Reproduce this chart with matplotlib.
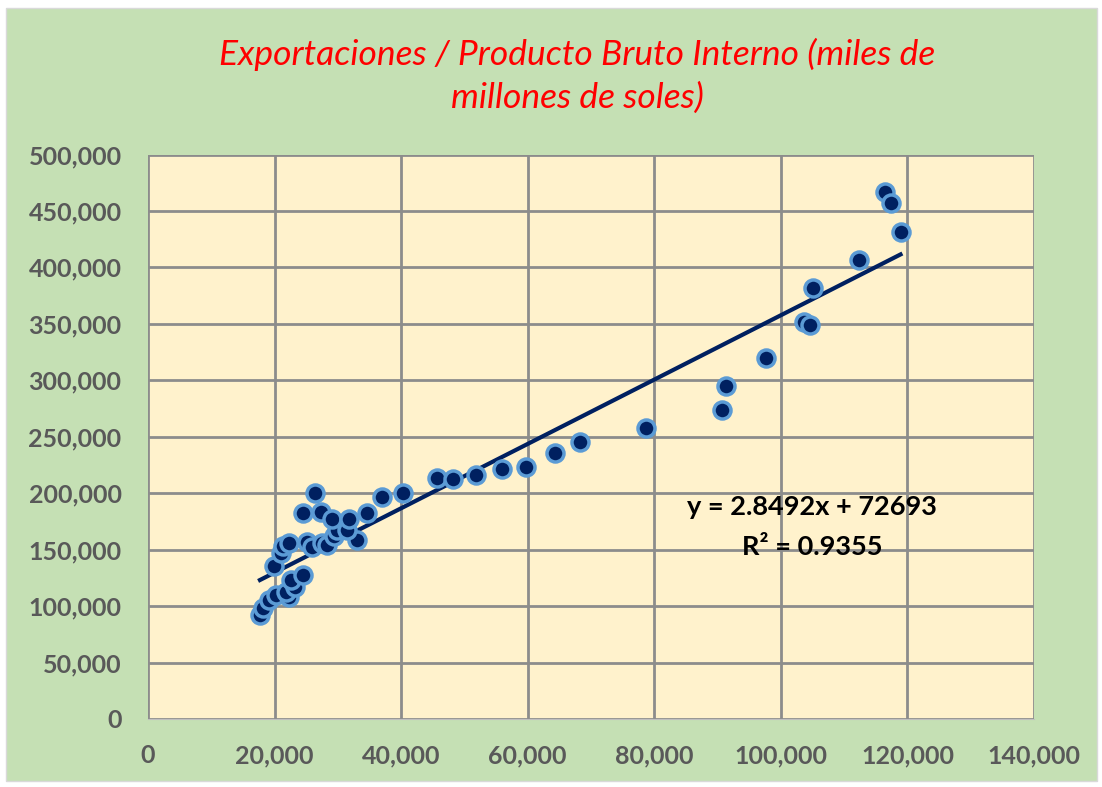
import matplotlib
matplotlib.use('Agg')
import matplotlib.pyplot as plt
from matplotlib.patches import Rectangle
from matplotlib.ticker import FuncFormatter, MultipleLocator
import numpy as np

# Datos (x = exportaciones, y = PBI)
exportaciones = [17690, 18210, 19160, 20220, 22320, 21800, 23220, 22540, 24440, 19910,
                 20960, 21370, 22320, 25070, 25860, 27440, 28330, 29430, 32970, 29810,
                 31490, 24530, 27330, 29020, 31750, 34550, 26380, 37010, 40280,
                 45610, 48140, 51820, 55970, 59720, 64300, 68300, 78630, 90630, 91310,
                 97580, 103680, 104540, 105060, 112320, 116430, 117380, 118910]
pbi = [92040, 97970, 105310, 109730, 108230, 112660, 117080, 123010, 127430, 135400,
       147170, 153100, 156020, 156910, 152480, 155490, 153990, 161950, 158410, 167260,
       167260, 182040, 182920, 176730, 176730, 182040, 200270, 196200, 200620,
       213900, 213010, 216550, 221860, 223280, 235670, 245130, 257520, 274070, 294690,
       319730, 351600, 349300, 381700, 406200, 466650, 456640, 430970]

pendiente = 2.8492
intercepto = 72693
r2 = 0.9355

titulo = 'Exportaciones / Producto Bruto Interno (miles de\nmillones de soles)'

plt.rcParams['font.family'] = ['Lato', 'DejaVu Sans']

fig = plt.figure(figsize=(11.02, 7.87), dpi=100)
fig.patch.set_facecolor('white')

# fondo verde del area del grafico
fondo = Rectangle((6 / 1102, 6 / 787), 1091 / 1102, 773 / 787, transform=fig.transFigure,
                  facecolor='#C5E0B4', edgecolor='#D9D9D9', linewidth=1, zorder=-10)
fig.patches.append(fondo)

ax = fig.add_axes([148 / 1102, 68 / 787, 886 / 1102, 564.5 / 787])
ax.set_zorder(1)
ax.set_facecolor('#FFF2CC')

# linea de tendencia
xs = np.array([min(exportaciones), max(exportaciones)])
ax.plot(xs, pendiente * xs + intercepto, color='#002060', linewidth=3, zorder=3)

ax.scatter(exportaciones, pbi, s=150, color='#002060', edgecolors='#5B9BD5',
           linewidths=2.5, zorder=4)

ax.set_xlim(0, 140000)
ax.set_ylim(0, 500000)
ax.xaxis.set_major_locator(MultipleLocator(20000))
ax.yaxis.set_major_locator(MultipleLocator(50000))
fmt = FuncFormatter(lambda v, p: f'{int(v):,}')
ax.xaxis.set_major_formatter(fmt)
ax.yaxis.set_major_formatter(fmt)

ax.grid(True, color='#8C8C8C', linewidth=2)
ax.set_axisbelow(True)
for lado in ['top', 'right', 'left']:
    ax.spines[lado].set_visible(False)
ax.spines['bottom'].set_color('#BFBFBF')
ax.tick_params(length=0, labelsize=18, labelcolor='#595959')
ax.tick_params(axis='x', pad=18)
ax.tick_params(axis='y', pad=19)
for lbl in ax.get_xticklabels() + ax.get_yticklabels():
    lbl.set_fontweight('bold')

ax.text(104900, 187600, f'y = {pendiente}x + {intercepto}', ha='center', va='center',
        fontsize=19.5, fontweight='bold', color='black', zorder=5)
ax.text(104900, 152200, f'R² = {r2}', ha='center', va='center',
        fontsize=19.5, fontweight='bold', color='black', zorder=5)

fig.text(577 / 1102, 1 - 76 / 787, titulo, ha='center', va='center', fontsize=25.5,
         style='italic', color='#FF0000', linespacing=1.4)

plt.savefig('out.png', dpi=100, facecolor=fig.get_facecolor())
plt.close()
